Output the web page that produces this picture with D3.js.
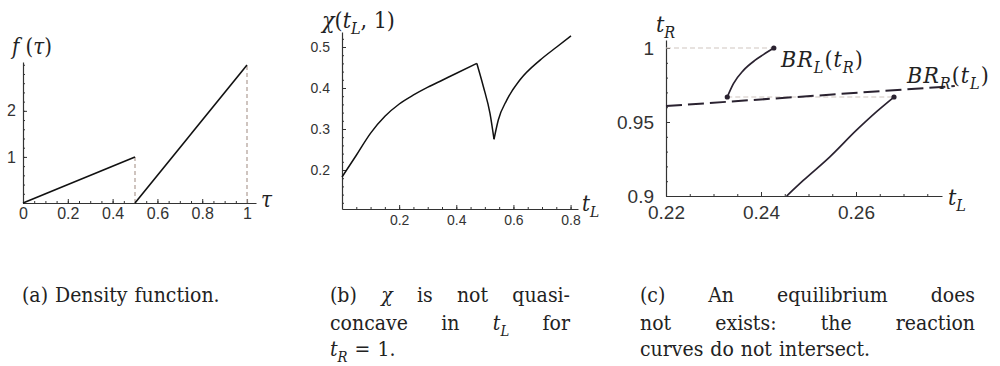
<!DOCTYPE html>
<html>
<head>
<meta charset="utf-8">
<script src="https://cdn.jsdelivr.net/npm/d3@7"></script>
<style>
  body { margin: 0; background: #fff; }
  svg text { fill: #222; }
  .tick text { font-family: "Liberation Sans", Arial, sans-serif; fill: #333; }
  .domain, .tick line { stroke: #333; }
</style>
</head>
<body>
<script>
// ---- data ----
// (a) density, two linear pieces
var densityLeft = [[0, 0], [0.5, 1]];
var densityRight = [[0.5, 0], [1, 3]];
var densityGuides = [[[0.5, 0], [0.5, 1]], [[1, 0], [1, 3]]];
var aTicksX = [0, 0.2, 0.4, 0.6, 0.8, 1];
var aTicksY = [1, 2];

// (b) chi(t_L, 1), split at the kinks
var chiRise = [[0, 0.183], [0.05, 0.236], [0.1, 0.29], [0.15, 0.331], [0.2, 0.361],
               [0.25, 0.383], [0.3, 0.402], [0.35, 0.419], [0.4, 0.436], [0.471, 0.46]];
var chiDrop = [[0.471, 0.46], [0.494, 0.403], [0.517, 0.338], [0.531, 0.275]];
var chiRecover = [[0.531, 0.275], [0.546, 0.322], [0.576, 0.371], [0.622, 0.42],
                  [0.692, 0.468], [0.75, 0.5], [0.8, 0.527]];
var bTicksX = [0.2, 0.4, 0.6, 0.8];
var bTicksY = [0.2, 0.3, 0.4, 0.5];

// (c) reaction curves
var brL = [[0.2329, 0.9669], [0.2342, 0.9759], [0.2363, 0.9849], [0.2387, 0.9916],
           [0.2405, 0.9955], [0.2427, 1.0]];
var brLlow = [[0.2454, 0.9], [0.2489, 0.9105], [0.2545, 0.9265], [0.2601, 0.9445],
              [0.2644, 0.9572], [0.268, 0.9669]];
var brR = [[0.22, 0.9608], [0.2808, 0.9743]];
var brDots = [[0.2329, 0.9669], [0.2427, 1.0], [0.268, 0.9669]];
var cGuides = [[[0.22, 1.0], [0.2427, 1.0]], [[0.2329, 0.9669], [0.268, 0.9669]]];
var cTicksX = [0.22, 0.24, 0.26];
var cTicksY = [0.9, 0.95, 1];

var SERIF = "'DejaVu Serif Condensed', 'DejaVu Serif', serif";

var svg = d3.select("body").append("svg")
    .attr("width", 1000)
    .attr("height", 366);

function drawAxes(g, x, y, opt) {
  var xa = d3.axisBottom(x).tickValues(opt.xMajor).tickSize(-opt.major)
      .tickPadding(opt.padX).tickFormat(opt.fmtX).tickSizeOuter(0);
  var xm = d3.axisBottom(x).tickValues(opt.xMinor).tickSize(-opt.minor)
      .tickFormat("").tickSizeOuter(0);
  var ya = d3.axisLeft(y).tickValues(opt.yMajor).tickSize(-opt.major)
      .tickPadding(opt.padY).tickFormat(opt.fmtY).tickSizeOuter(0);
  var ym = d3.axisLeft(y).tickValues(opt.yMinor).tickSize(-opt.minor)
      .tickFormat("").tickSizeOuter(0);
  var gx = g.append("g").attr("transform", "translate(0," + opt.x0 + ")");
  gx.call(xm); gx.select(".domain").remove();
  gx.append("g").call(xa);
  var gy = g.append("g").attr("transform", "translate(" + opt.y0 + ",0)");
  gy.call(ym); gy.select(".domain").remove();
  gy.append("g").call(ya);
  g.selectAll(".tick text").attr("font-size", opt.font);
  g.selectAll(".domain").attr("stroke-width", 1.2);
}

function range(a, b, s) {
  var out = [];
  for (var v = a; v <= b + 1e-9; v += s) out.push(+v.toFixed(4));
  return out;
}

// serif label with optional subscripts: parts = [{t, sub, roman}]
function mathText(g, x, y, size, parts) {
  var t = g.append("text").attr("x", x).attr("y", y)
      .style("font-family", SERIF).attr("font-size", size);
  var shift = 0;
  parts.forEach(function(p) {
    var s = t.append("tspan").text(p.t);
    s.style("font-style", p.roman ? "normal" : "italic");
    if (p.sub) {
      s.attr("font-size", size * 0.7).attr("dy", size * 0.28 - shift);
      shift = size * 0.28;
    } else if (shift) {
      s.attr("dy", -shift);
      shift = 0;
    }
  });
  return t;
}

// ---------- (a) ----------
var ax = d3.scaleLinear().domain([0, 1]).range([23, 247]);
var ay = d3.scaleLinear().domain([0, 3]).range([203, 65]);
var ga = svg.append("g");
drawAxes(ga, d3.scaleLinear().domain([0, 1.04]).range([23, 256]),
         d3.scaleLinear().domain([0, 3.06]).range([203, 62]), {
  x0: 203, y0: 23, xMajor: aTicksX, xMinor: range(0, 1, 0.05),
  yMajor: aTicksY, yMinor: range(0, 3, 0.2), major: 4, minor: 2,
  padX: 5, padY: 7, font: 16, fmtX: d3.format("~g"), fmtY: d3.format("d")
});
var aline = d3.line().x(function(d) { return ax(d[0]); }).y(function(d) { return ay(d[1]); });
ga.selectAll(".guide").data(densityGuides).enter().append("path")
    .attr("d", aline).attr("fill", "none").attr("stroke", "#b5a59d")
    .attr("stroke-width", 1.3).attr("stroke-dasharray", "4,3");
ga.selectAll(".dens").data([densityLeft, densityRight]).enter().append("path")
    .attr("d", aline).attr("fill", "none").attr("stroke", "#111").attr("stroke-width", 1.6);
mathText(ga, 12, 54, 22, [{t: "f"}, {t: " (", roman: 1}, {t: "τ"}, {t: ")", roman: 1}]);
mathText(ga, 261, 207, 22, [{t: "τ"}]);

// ---------- (b) ----------
var bx = d3.scaleLinear().domain([0, 0.8]).range([342, 571]);
var by = d3.scaleLinear().domain([0.2, 0.5]).range([170, 47]);
var gb = svg.append("g");
drawAxes(gb, d3.scaleLinear().domain([0, 0.826]).range([342, 578]),
         d3.scaleLinear().domain([by.invert(209), by.invert(32)]).range([209, 32]), {
  x0: 209, y0: 342, xMajor: bTicksX, xMinor: range(0.05, 0.8, 0.05),
  yMajor: bTicksY, yMinor: range(0.12, 0.52, 0.02), major: 4, minor: 2,
  padX: 6, padY: 12, font: 14, fmtX: d3.format(".1f"), fmtY: d3.format(".1f")
});
var bline = d3.line().x(function(d) { return bx(d[0]); })
    .y(function(d) { return by(d[1]); }).curve(d3.curveMonotoneX);
gb.selectAll(".chi").data([chiRise, chiDrop, chiRecover]).enter().append("path")
    .attr("d", bline).attr("fill", "none").attr("stroke", "#111").attr("stroke-width", 1.5);
mathText(gb, 322, 28, 23, [{t: "χ"}, {t: "(", roman: 1}, {t: "t"}, {t: "L", sub: 1},
                           {t: ", 1)", roman: 1}]);
mathText(gb, 582, 211, 22, [{t: "t"}, {t: "L", sub: 1}]);

// ---------- (c) ----------
var cx = d3.scaleLinear().domain([0.22, 0.26]).range([666, 856]);
var cy = d3.scaleLinear().domain([0.9, 1.0]).range([196, 48]);
var gc = svg.append("g");
drawAxes(gc, d3.scaleLinear().domain([0.22, cx.invert(942)]).range([666, 942]),
         d3.scaleLinear().domain([0.9, cy.invert(40)]).range([196, 40]), {
  x0: 196, y0: 666, xMajor: cTicksX, xMinor: range(0.225, 0.275, 0.005),
  yMajor: cTicksY, yMinor: range(0.91, 0.99, 0.01), major: 4, minor: 2,
  padX: 10, padY: 12, font: 19, fmtX: d3.format(".2f"), fmtY: d3.format("~g")
});
var cline = d3.line().x(function(d) { return cx(d[0]); })
    .y(function(d) { return cy(d[1]); }).curve(d3.curveMonotoneX);
gc.selectAll(".guide").data(cGuides).enter().append("path")
    .attr("d", d3.line().x(function(d) { return cx(d[0]); }).y(function(d) { return cy(d[1]); }))
    .attr("fill", "none").attr("stroke", "#cfc5c0").attr("stroke-width", 1.2)
    .attr("stroke-dasharray", "5,3");
gc.append("path").attr("d", cline(brR)).attr("fill", "none").attr("stroke", "#2a2230")
    .attr("stroke-width", 2).attr("stroke-dasharray", "16,6");
gc.selectAll(".br").data([brL, brLlow]).enter().append("path")
    .attr("d", cline).attr("fill", "none").attr("stroke", "#2a2230").attr("stroke-width", 1.7);
gc.selectAll("circle").data(brDots).enter().append("circle")
    .attr("cx", function(d) { return cx(d[0]); }).attr("cy", function(d) { return cy(d[1]); })
    .attr("r", 2.6).attr("fill", "#2a2230");

mathText(gc, 781, 67, 23, [{t: "BR"}, {t: "L", sub: 1}, {t: "(", roman: 1}, {t: "t"},
                           {t: "R", sub: 1}, {t: ")", roman: 1}]).attr("letter-spacing", 1);
mathText(gc, 907, 83, 23, [{t: "BR"}, {t: "R", sub: 1}, {t: "(", roman: 1}, {t: "t"},
                           {t: "L", sub: 1}, {t: ")", roman: 1}]).attr("letter-spacing", 1);
mathText(gc, 656, 32, 23, [{t: "t"}, {t: "R", sub: 1}]);
mathText(gc, 948, 205, 23, [{t: "t"}, {t: "L", sub: 1}]);

// ---------- captions ----------
// each line is a list of words, a word is a list of parts; justified lines get a width
function captionLine(x, y, words, width) {
  var size = 21;
  var nodes = words.map(function(w) {
    return mathText(svg, x, y, size, w.map(function(p) {
      return {t: p.t, sub: p.sub, roman: !p.i};
    }));
  });
  var widths = nodes.map(function(n) { return n.node().getComputedTextLength(); });
  var total = d3.sum(widths);
  var gap = width && words.length > 1 ? (width - total) / (words.length - 1) : 7;
  var pos = x;
  nodes.forEach(function(n, i) {
    n.attr("x", pos);
    pos += widths[i] + gap;
  });
}
function words(str) {
  return str.split(" ").map(function(w) { return [{t: w}]; });
}
captionLine(22, 302, words("(a) Density function."));
captionLine(330, 302, [[{t: "(b)"}], [{t: "χ", i: 1}]].concat(words("is not quasi-")), 240);
captionLine(330, 330, words("concave in").concat([[{t: "t", i: 1}, {t: "L", i: 1, sub: 1}]],
            words("for")), 240);
captionLine(330, 356, [[{t: "t", i: 1}, {t: "R", i: 1, sub: 1}], [{t: "="}], [{t: "1."}]]);
captionLine(640, 302, words("(c) An equilibrium does"), 335);
captionLine(640, 330, words("not exists: the reaction"), 335);
captionLine(640, 356, words("curves do not intersect."));
</script>
</body>
</html>
